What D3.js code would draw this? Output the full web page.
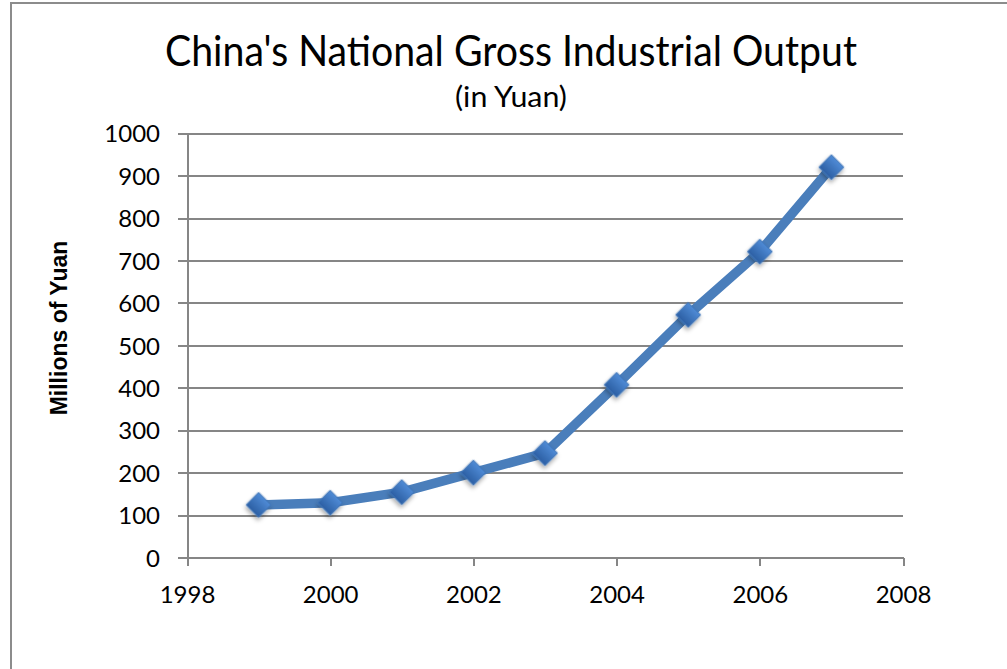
<!DOCTYPE html>
<html>
<head>
<meta charset="utf-8">
<script src="https://cdn.jsdelivr.net/npm/d3@7"></script>
<style>
  html, body { margin: 0; padding: 0; background: #fff; }
  svg { display: block; }
  text { font-family: Lato, "Open Sans", sans-serif; fill: #000; }
</style>
</head>
<body>
<svg id="chart" width="1007" height="669"></svg>
<script>
// Gross industrial output, millions of yuan
const years = [1999, 2000, 2001, 2002, 2003, 2004, 2005, 2006, 2007];
const output = [124, 129, 154, 200, 246, 407, 572, 721, 920];
const xTicks = [1998, 2000, 2002, 2004, 2006, 2008];
const yTicks = [0, 100, 200, 300, 400, 500, 600, 700, 800, 900, 1000];

const titleText = "China's National Gross Industrial Output";
const subtitleText = "(in Yuan)";
const yAxisTitle = "Millions of Yuan";

const svg = d3.select("#chart");
const plot = { left: 187, right: 903, top: 133.3, bottom: 557.5 };

const x = d3.scaleLinear().domain([1998, 2008]).range([plot.left, plot.right]);
const y = d3.scaleLinear().domain([0, 1000]).range([plot.bottom, plot.top]);

// chart frame
svg.append("rect")
  .attr("x", 11).attr("y", 3)
  .attr("width", 1020).attr("height", 700)
  .attr("fill", "#fff")
  .attr("stroke", "#8c8c8c").attr("stroke-width", 2);

const defs = svg.append("defs");
const grad = defs.append("linearGradient")
  .attr("id", "markerFill")
  .attr("x1", "0").attr("y1", "0").attr("x2", "0").attr("y2", "1");
grad.append("stop").attr("offset", "0%").attr("stop-color", "#4f8bd6");
grad.append("stop").attr("offset", "100%").attr("stop-color", "#2c5fa3");

const shadow = defs.append("filter").attr("id", "markerShadow")
  .attr("x", "-50%").attr("y", "-50%").attr("width", "200%").attr("height", "200%");
shadow.append("feDropShadow")
  .attr("dx", 1.5).attr("dy", 2.5).attr("stdDeviation", 2)
  .attr("flood-color", "#000").attr("flood-opacity", 0.35);

// horizontal gridlines and y axis
const yAxis = d3.axisLeft(y)
  .tickValues(yTicks)
  .tickSize(-(plot.right - plot.left))
  .tickSizeOuter(0)
  .tickPadding(0)
  .tickFormat(d3.format("d"));

const gy = svg.append("g")
  .attr("transform", `translate(${plot.left},0)`)
  .call(yAxis);
gy.select(".domain").attr("stroke", "#868686").attr("stroke-width", 2);
gy.selectAll(".tick line")
  .attr("x1", -9)
  .attr("stroke", "#868686").attr("stroke-width", 2);
gy.selectAll(".tick text")
  .attr("x", -27)
  .attr("dy", "0.36em")
  .style("font-size", "24px")
  .style("font-family", "Lato, sans-serif");

// x axis
const xAxis = d3.axisBottom(x)
  .tickValues(xTicks)
  .tickSize(8)
  .tickSizeOuter(0)
  .tickPadding(0)
  .tickFormat(d3.format("d"));

const gx = svg.append("g")
  .attr("transform", `translate(0,${plot.bottom})`)
  .call(xAxis);
gx.select(".domain").attr("stroke", "#868686").attr("stroke-width", 2);
gx.selectAll(".tick line").attr("stroke", "#868686").attr("stroke-width", 2);
gx.selectAll(".tick text")
  .attr("y", 0).attr("dy", 45)
  .style("font-size", "24px")
  .style("font-family", "Lato, sans-serif");

svg.selectAll(".domain, .tick line").attr("shape-rendering", "crispEdges");

// series line
const points = years.map((yr, i) => ({ year: yr, value: output[i] }));
const line = d3.line().x(d => x(d.year)).y(d => y(d.value));

svg.append("path")
  .datum(points)
  .attr("d", line)
  .attr("fill", "none")
  .attr("stroke", "#4a7ebb")
  .attr("stroke-width", 9.5)
  .attr("stroke-linejoin", "round")
  .attr("stroke-linecap", "butt");

// diamond markers
const diamond = d3.symbol().type(d3.symbolSquare).size(310);
svg.selectAll(".marker")
  .data(points)
  .join("path")
  .attr("class", "marker")
  .attr("d", diamond)
  .attr("transform", d => `translate(${x(d.year)},${y(d.value)}) rotate(45)`)
  .attr("fill", "url(#markerFill)")
  .attr("stroke", "#3f74b8")
  .attr("stroke-width", 1)
  .attr("filter", "url(#markerShadow)");

// titles
svg.append("text")
  .attr("x", 511).attr("y", 66)
  .attr("text-anchor", "middle")
  .attr("textLength", 692)
  .attr("lengthAdjust", "spacingAndGlyphs")
  .style("font-size", "42px")
  .text(titleText);

svg.append("text")
  .attr("x", 511).attr("y", 107)
  .attr("text-anchor", "middle")
  .attr("textLength", 112)
  .attr("lengthAdjust", "spacingAndGlyphs")
  .style("font-size", "29px")
  .text(subtitleText);

svg.append("text")
  .attr("transform", "translate(67,328) rotate(-90)")
  .attr("text-anchor", "middle")
  .style("font-family", "'Liberation Sans', Arial, sans-serif")
  .style("font-weight", "bold")
  .style("font-size", "23px")
  .text(yAxisTitle);
</script>
</body>
</html>
